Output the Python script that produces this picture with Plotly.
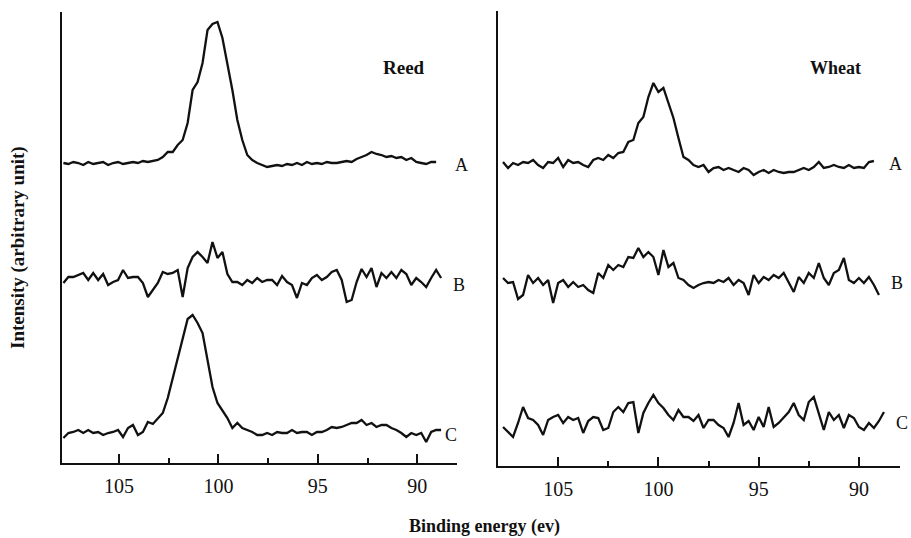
import plotly.graph_objects as go

# ---------------- data ----------------
STEP = 0.25                      # eV between readings
REED_START = 107.8               # first binding energy of Reed spectra (eV)
WHEAT_START = 107.75             # first binding energy of Wheat spectra (eV)

reed_A = [0, -1, 1, 0, -2, 1, -1, 0, 1, -2, 0, 1, -1, 0, 1, 0, 2, 1, 2,
          3, 6, 11, 11, 18, 23, 40, 73, 81, 100, 133, 139, 141, 125, 100, 73, 43, 23, 8, 3,
          0, -2, -4, -3, -2, -3, -1, -2, 0, -2, 1, -1, 0, -1, 1, 0, 0, 1, 2, 1,
          4, 6, 8, 11, 9, 8, 6, 7, 5, 6, 3, 5, 1, 0, -1, 1, 1]
reed_B = [0, 6, 6, 8, 10, 3, 10, 3, 9, -2, 1, 3, 13, 5, 6, 6, 0, -14, -7, 0,
          11, 9, 10, 13, -14, 15, 26, 31, 26, 20, 41, 25, 31, 9, 1, 1, -2, 3, 0, 5,
          1, 3, 3, -2, 7, 1, -2, -15, 0, -2, 5, 8, 3, 6, 11, 13, 3, -19, -17, 1,
          14, 6, 15, -4, 10, 5, 11, 5, 13, 9, -2, 5, 1, -4, 5, 13, 5]
reed_C = [-5, 0, 1, 3, 0, 3, 0, 1, -2, 0, 1, 3, -4, 5, 8, -2, 1, 11, 9, 15,
          20, 35, 55, 73, 96, 114, 118, 110, 100, 73, 46, 30, 22, 15, 5, 10, 5, 3, 1, -2,
          -2, 0, -2, 1, 0, 0, 3, 0, 1, 1, -2, 1, 1, 3, 6, 5, 6, 8, 10, 10,
          13, 8, 10, 6, 8, 8, 5, 3, 0, -4, 0, -2, 0, -9, 1, 3, 3]

wheat_A = [4, -2, 3, 1, 4, 3, 6, 1, -2, 4, 3, 8, -1, 6, 3, 4, 1, -1, 6, 8,
           6, 11, 8, 13, 14, 24, 26, 43, 49, 69, 83, 74, 78, 63, 48, 28, 9, 6, 1, -1,
           1, -6, -2, -1, -4, -2, -4, -6, -2, -4, -9, -6, -4, -7, -4, -6, -7, -6, -6, -4,
           -2, -4, -1, 4, -2, -1, 1, -1, -2, 1, -2, -1, -2, 4, 5]
wheat_B = [8, 3, 4, -13, -9, 11, 3, 8, 1, 6, -17, 3, 6, -1, 4, -1, 1, -4, -7, 13,
           8, 21, 16, 21, 19, 29, 28, 38, 29, 34, 29, 11, 36, 19, 23, 8, 6, 1, -2, 1,
           3, 4, 3, 6, 4, 8, 1, 6, 3, -9, 11, 3, 9, 6, 11, 8, 13, 4, -6, 9,
           3, 13, 8, 23, 8, 1, 13, 16, 28, 6, 3, 8, 3, 9, 1, -9]
wheat_C = [-6, -11, -16, -2, 14, 3, 1, -4, -14, 1, 4, 6, -2, 4, 1, 3, -12, 0, 4, 3,
           -9, -7, 9, 14, 9, 18, 19, -12, 8, 18, 26, 18, 13, 6, 1, 11, 4, 4, 0, 6,
           -7, 1, 1, -4, -7, -16, -2, 18, -4, 0, -9, 4, -6, 14, -6, -2, 3, 9, 18, 6,
           1, 19, 24, 8, -9, 9, 1, 6, -7, 6, 3, -6, -9, -2, -7, 0, 9]

trace_names = ["A", "B", "C"]
panel_names = ["Reed", "Wheat"]
x_ticks = [105, 100, 95, 90]
x_title = "Binding energy (ev)"
y_title = "Intensity (arbitrary unit)"

# ---------------- styling / layout constants ----------------
W, H = 911, 538
FONT = "Liberation Serif, Times New Roman, serif"
INK = "#111111"
OFFSETS = {"A": 300, "B": 180, "C": 30}        # vertical stacking (Reed)
OFFSETS_W = {"A": 300, "B": 180, "C": 45}      # vertical stacking (Wheat)

def px(x):
    return x / W

def py(y):
    return 1 - y / H

fig = go.Figure()

def add_spec(vals, start, offset, xa, ya):
    xs = [round(start - STEP * i, 3) for i in range(len(vals))]
    ys = [v + offset for v in vals]
    fig.add_trace(go.Scatter(x=xs, y=ys, mode="lines", xaxis=xa, yaxis=ya,
                             line=dict(color=INK, width=2.3), showlegend=False,
                             hoverinfo="skip"))

for name, vals in zip(trace_names, [reed_A, reed_B, reed_C]):
    add_spec(vals, REED_START, OFFSETS[name], "x", "y")
for name, vals in zip(trace_names, [wheat_A, wheat_B, wheat_C]):
    add_spec(vals, WHEAT_START, OFFSETS_W[name], "x2", "y2")

xcommon = dict(showline=True, linecolor=INK, linewidth=2, mirror=False,
               ticks="inside", ticklen=9, tickwidth=2, tickcolor=INK,
               tickmode="array", tickvals=x_ticks, ticktext=[str(t) for t in x_ticks],
               minor=dict(tickmode="array", tickvals=[102.5, 97.5, 92.5],
                          ticks="inside", ticklen=5, tickwidth=1.5, tickcolor=INK),
               showgrid=False, zeroline=False,
               tickfont=dict(family=FONT, size=20, color=INK),
               ticklabelstandoff=4)
ycommon = dict(showline=True, linecolor=INK, linewidth=2, ticks="",
               showticklabels=False, showgrid=False, zeroline=False)

fig.update_layout(
    width=W, height=H, margin=dict(l=0, r=0, t=0, b=0),
    paper_bgcolor="white", plot_bgcolor="white",
    xaxis=dict(domain=[px(62), px(457)], range=[107.87, 88.0], anchor="y", **xcommon),
    yaxis=dict(domain=[py(463), py(12)], range=[0, 451], anchor="x", **ycommon),
    xaxis2=dict(domain=[px(498), px(900)], range=[108.0, 87.95], anchor="y2", **xcommon),
    yaxis2=dict(domain=[py(466), py(11)], range=[0, 455], anchor="x2", **ycommon),
)

ann = []
def label(text, x, y, size, bold=False, angle=0):
    ann.append(dict(text=text, x=px(x), y=py(y), xref="paper", yref="paper",
                    showarrow=False, textangle=angle, xanchor="center", yanchor="middle",
                    font=dict(family=FONT, size=size, color=INK,
                              weight="bold" if bold else "normal")))

label(panel_names[0], 404, 67, 19, bold=True)
label(panel_names[1], 835, 68, 18, bold=True)
for name, (x, y) in zip(trace_names, [(461, 165), (459, 285), (451, 435)]):
    label(name, x, y, 18)
for name, (x, y) in zip(trace_names, [(895, 164), (897, 283), (902, 423)]):
    label(name, x, y, 18)
label(x_title, 485, 526, 18, bold=True)
label(y_title, 18, 248, 19, bold=True, angle=-90)
fig.update_layout(annotations=ann)

fig.write_html("out.html")
